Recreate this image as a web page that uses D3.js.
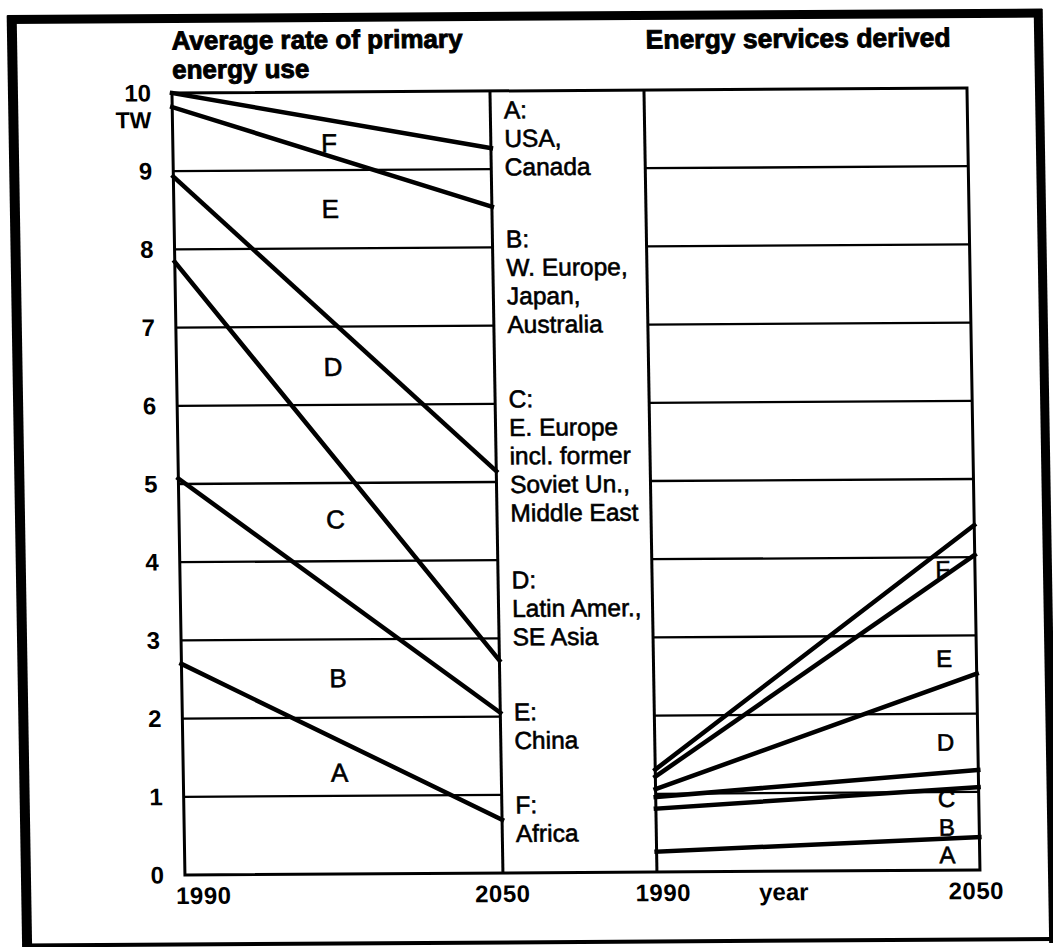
<!DOCTYPE html>
<html><head><meta charset="utf-8">
<script src="https://cdn.jsdelivr.net/npm/d3@7"></script>
<style>
html,body{margin:0;padding:0;background:#fff;}
svg{display:block;}
text{font-family:"Liberation Sans", Arial, Helvetica, sans-serif; fill:#000;}
</style></head><body>
<svg id="chart" width="1053" height="947"></svg>
<script>
// ---------------- data ----------------
const years = [1990, 2050];
const regions = ["A", "B", "C", "D", "E", "F"];
// Average rate of primary energy use (TW): contribution of each region (stacked A..F)
const primary1990 = [2.70, 2.37, 2.77, 1.09, 0.89, 0.18];
const primary2050 = [0.68, 1.37, 0.67, 2.42, 3.38, 0.75];
// Energy services derived (same TW scale): contribution of each region (stacked A..F)
const services1990 = [0.26, 0.55, 0.15, 0.10, 0.16, 0.09];
const services2050 = [0.42, 0.64, 0.22, 1.23, 1.52, 0.38];
const yTicks = [0, 1, 2, 3, 4, 5, 6, 7, 8, 9, 10];
const yUnit = "TW";
const primaryLabelYear = 2019.5;
const primaryLabelValues = [1.30, 2.51, 4.54, 6.49, 8.51, 9.35];
const servicesLabelYear = 2044;
const servicesLabelValues = [0.20, 0.55, 0.92, 1.64, 2.71, 3.85];
const legendEntries = [
  ["A:", "USA,", "Canada"],
  ["B:", "W. Europe,", "Japan,", "Australia"],
  ["C:", "E. Europe", "incl. former", "Soviet Un.,", "Middle East"],
  ["D:", "Latin Amer.,", "SE Asia"],
  ["E:", "China"],
  ["F:", "Africa"]
];
const leftTitle = ["Average rate of primary", "energy use"];
const rightTitle = "Energy services derived";
const xAxisTitle = "year";
const xAxisTitleYear = 2013.5;

// ---------------- layout ----------------
const L = {left: 178.5, mid1: 496.5, mid2: 650.5, right: 973.5, top: 90.5, bottom: 872.5};
const legendX = 510, legendGroupY = [118, 247, 407, 588, 720, 813], legendStep = 28.5;
// slight scan skew of the original
const b = -0.0063, c = 0.0166, x0 = 575, y0 = 484;

const svg = d3.select("#chart");
const g = svg.append("g")
  .attr("transform", `matrix(1,${b},${c},1,${-c * y0},${-b * x0})`);

const y = d3.scaleLinear().domain([0, 10]).range([L.bottom, L.top]);
const xP = d3.scaleLinear().domain(years).range([L.left, L.mid1]);
const xS = d3.scaleLinear().domain(years).range([L.mid2, L.right]);

function rows(a, bb) {
  return [a, bb].map((vals, i) => {
    const r = {year: years[i]};
    regions.forEach((k, j) => r[k] = vals[j]);
    return r;
  });
}
const stack = d3.stack().keys(regions);
const primaryStack = stack(rows(primary1990, primary2050));
const servicesStack = stack(rows(services1990, services2050));

// outer frame
const frame = g.append("g").attr("stroke", "#000").attr("fill", "none");
frame.append("line").attr("x1", 19.5).attr("x2", 19.5).attr("y1", 12).attr("y2", 946).attr("stroke-width", 10);
frame.append("line").attr("x1", 15).attr("x2", 1050).attr("y1", 16).attr("y2", 16).attr("stroke-width", 9);
frame.append("line").attr("x1", 1046).attr("x2", 1046).attr("y1", 12).attr("y2", 946).attr("stroke-width", 9);
frame.append("line").attr("x1", 15).attr("x2", 1050).attr("y1", 942).attr("y2", 942).attr("stroke-width", 4);

// grid lines
const gridVals = yTicks.filter(v => v > 0 && v < 10);
const grid = g.append("g").attr("stroke", "#000").attr("stroke-width", 2.3);
grid.selectAll("line.l").data(gridVals).join("line").attr("class", "l")
  .attr("x1", L.left).attr("x2", L.mid1).attr("y1", d => y(d)).attr("y2", d => y(d));
grid.selectAll("line.r").data(gridVals).join("line").attr("class", "r")
  .attr("x1", L.mid2).attr("x2", L.right).attr("y1", d => y(d)).attr("y2", d => y(d));

// box
const box = g.append("g").attr("stroke", "#000").attr("stroke-width", 3).attr("fill", "none");
box.append("rect").attr("x", L.left).attr("y", y(10)).attr("width", L.right - L.left).attr("height", y(0) - y(10));
box.append("line").attr("x1", L.mid1).attr("x2", L.mid1).attr("y1", y(10)).attr("y2", y(0));
box.append("line").attr("x1", L.mid2).attr("x2", L.mid2).attr("y1", y(10)).attr("y2", y(0));

// data lines
function drawLines(st, x) {
  const line = d3.line().x(d => x(d.data.year)).y(d => y(d[1]));
  g.append("g").selectAll("path").data(st).join("path")
    .attr("d", line).attr("fill", "none").attr("stroke", "#000")
    .attr("stroke-width", 4.5).attr("stroke-linecap", "square");
}
drawLines(primaryStack, xP);
drawLines(servicesStack, xS);

// region letters
const letters = g.append("g").attr("text-anchor", "middle")
  .attr("stroke", "#000").attr("stroke-width", 0.6);
letters.selectAll("text.p").data(regions).join("text").attr("class", "p").attr("font-size", 26)
  .attr("x", xP(primaryLabelYear)).attr("y", (d, i) => y(primaryLabelValues[i])).attr("dy", "0.36em").text(d => d);
letters.selectAll("text.s").data(regions).join("text").attr("class", "s").attr("font-size", 24)
  .attr("x", xS(servicesLabelYear)).attr("y", (d, i) => y(servicesLabelValues[i])).attr("dy", "0.36em").text(d => d);

// y axis
const yAx = g.append("g").attr("transform", `translate(${L.left},0)`)
  .call(d3.axisLeft(y).tickValues(yTicks).tickSize(0).tickPadding(21).tickFormat(d3.format("d")));
yAx.select(".domain").remove();
yAx.selectAll("text").attr("font-size", 24).attr("font-weight", "bold")
  .attr("font-family", '"Liberation Sans", Arial, sans-serif').attr("fill", "#000");
g.append("text").attr("x", L.left - 21).attr("y", y(10) + 35).attr("text-anchor", "end")
  .attr("font-size", 23).attr("font-weight", "bold").text(yUnit);

// x axes
function xAxis(x, offsets) {
  const ax = g.append("g").attr("transform", `translate(0,${L.bottom})`)
    .call(d3.axisBottom(x).tickValues(years).tickSize(0).tickPadding(12).tickFormat(d3.format("d")));
  ax.select(".domain").remove();
  ax.selectAll("text").attr("font-size", 24).attr("font-weight", "bold").attr("letter-spacing", 0.5)
    .attr("font-family", '"Liberation Sans", Arial, sans-serif').attr("fill", "#000")
    .attr("dx", (d, i) => offsets[i]);
}
xAxis(xP, [18, -1]);
xAxis(xS, [5.5, -4.5]);
g.append("text").attr("x", xS(xAxisTitleYear)).attr("y", L.bottom + 12).attr("dy", "0.71em")
  .attr("text-anchor", "middle").attr("font-size", 24).attr("font-weight", "bold").text(xAxisTitle);

// titles
const t = g.append("g").attr("font-size", 26).attr("font-weight", "bold")
  .attr("stroke", "#000").attr("stroke-width", 0.9);
t.selectAll("text.lt").data(leftTitle).join("text").attr("class", "lt")
  .attr("x", 179).attr("y", (d, i) => 47 + i * 29).text(d => d);
t.append("text").attr("x", 653).attr("y", 49).attr("font-size", 26.5).text(rightTitle);

// legend
const lg = g.append("g").attr("font-size", 24.5).attr("stroke", "#000").attr("stroke-width", 0.6);
legendEntries.forEach((lines, gi) => {
  lg.append("g").selectAll("text").data(lines).join("text")
    .attr("x", legendX).attr("y", (d, i) => legendGroupY[gi] + i * legendStep).text(d => d);
});
</script>
</body></html>
